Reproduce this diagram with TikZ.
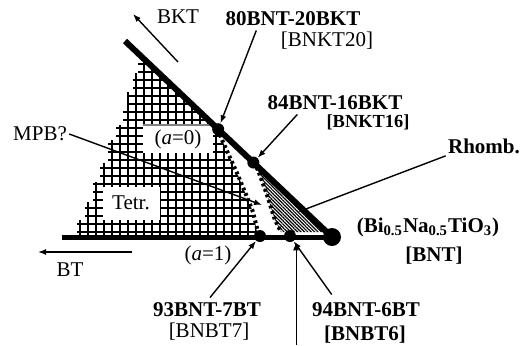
\documentclass[tikz,border=0pt]{standalone}
\usepackage{fontspec}
\setmainfont{Liberation Serif}
\usetikzlibrary{positioning,arrows.meta,calc,patterns.meta}
\newcommand\labelsize{\fontsize{10.5}{12.5}\selectfont}
\tikzset{
  joinline/.style={line width=3pt},
  baseline line/.style={line width=2.5pt},
  comp/.style={circle, fill=black, inner sep=0pt, minimum size=6pt},
  tag/.style={font=\labelsize\bfseries, inner sep=1pt},
  plain/.style={font=\labelsize, inner sep=1pt},
  ptr/.style={-{Latex[length=4pt,width=3pt]}, line width=0.7pt},
  bound/.style={line width=2pt, dash pattern=on 1.4pt off 1.5pt},
  gridline/.style={line width=0.9pt, step=4pt},
  blank/.style={fill=white, inner sep=0pt},
}

\begin{document}
\begin{tikzpicture}[x=0.5pt, y=-0.5pt]
  \useasboundingbox (0,0) rectangle (526,345);
  % ends of the two thick lines
  \coordinate (bktend) at (125,41);
  \coordinate (btend) at (62,237);
  \coordinate (pbnt) at (332,237);
  \coordinate (p80) at ($(bktend)!0.45!(pbnt)$);
  \coordinate (p84) at ($(bktend)!0.62!(pbnt)$);
  \coordinate (p93) at (260,236);
  \coordinate (p94) at (290,236);

  % tetragonal region
  \begin{scope}
    \clip (138,60) -- (146,60) -- (p80) -- (222,140) -- (237,173) -- (247,197)
      -- (253,212) -- (258,237) -- (73,237) |- (77,233) |- (85,220) |- (93,202)
      |- (100,182) |- (108,163) |- (116,140) |- (123,125) |- (127,110)
      |- (133,92) |- (138,73) -- cycle;
    \draw[gridline] (60,40) grid (270,240);
  \end{scope}
  % rhombohedral region
  \fill[pattern={Lines[angle=-45, distance=1.2pt, line width=0.6pt]}]
    (p84) -- (258,170) -- (267,195) -- (275,220) -- (281,232) -- (326,232) -- cycle;
  \draw[bound] (p80) -- (222,140) -- (237,173) -- (247,197) -- (253,212) -- (258,232);
  \draw[bound] (p84) -- (258,170) -- (267,195) -- (275,220) -- (281,232);

  \node[blank, font=\labelsize, minimum width=35pt, minimum height=13.5pt] (a0) at (178,139) {(\textit{a}=0)};
  \draw[gray, line width=1pt] (a0.north west) -- (a0.north east);
  \node[blank, font=\labelsize, minimum width=28.5pt, minimum height=16.5pt] (tetr) at (131,203) {Tetr.};

  \draw[joinline] (bktend) -- (pbnt);
  \draw[baseline line] (btend) -- (pbnt);
  \node[comp, minimum size=9pt] (bnt) at (pbnt) {};
  \node[comp] (c80) at (p80) {};
  \node[comp] (c84) at (p84) {};
  \node[comp] (c93) at (p93) {};
  \node[comp] (c94) at (p94) {};

  % end members
  \coordinate (bkttail) at (178,62);
  \coordinate (bkthead) at (133,14);
  \draw[ptr] (bkttail) -- (bkthead);
  \node[plain] (bkt) at (178,17) {BKT};
  \coordinate (bttail) at (132,252);
  \coordinate (bthead) at (38,252);
  \draw[ptr] (bttail) -- (bthead);
  \node[plain] (bt) at (70,270) {BT};
  \node[tag] (lbnt) at (428,227) {(Bi\textsubscript{0.5}Na\textsubscript{0.5}TiO\textsubscript{3})};
  \node[tag] (lbntb) at (434,256) {[BNT]};

  % compositions
  \node[tag] (l80) at (293,19) {80BNT-20BKT};
  \node[plain] (l80b) at (327,41) {[BNKT20]};
  \draw[ptr] ($(l80.south west)+(33,2)$) -- (c80);
  \node[tag, inner sep=0pt] (l84) at (335,103) {84BNT-16BKT};
  \node[tag, inner sep=0pt, font=\fontsize{9.2}{11}\selectfont\bfseries] (l84b) at (368,122) {[BNKT16]};
  \draw[ptr] ($(l84.south west)+(30,4)$) -- (c84);
  \node[tag] (l93) at (207,310) {93BNT-7BT};
  \node[plain] (l93b) at (209,332) {[BNBT7]};
  \draw[ptr] ($(l93.north)+(3,-3)$) -- (c93);
  \node[tag] (l94) at (366,310) {94BNT-6BT};
  \node[tag] (l94b) at (365,335) {[BNBT6]};
  \draw[ptr] ($(l94.north west)+(22,-6)$) -- (c94);
  \coordinate (vbot) at (296,345);
  \draw[ptr, line width=0.5pt] (vbot) -- (vbot |- c94.south);

  % phases
  \node[plain] (a1) at (208,255) {(\textit{a}=1)};
  \node[tag] (rh) at (484,146) {Rhomb.};
  \coordinate (rhtip) at (298,212);
  \draw[ptr] (rh.south west) -- (rhtip);
  \node[plain] (mpb) at (40,134) {MPB?};
  \coordinate (mpbtip) at (262,205);
  \draw[ptr] (mpb.east) -- (mpbtip);
\end{tikzpicture}
\end{document}
